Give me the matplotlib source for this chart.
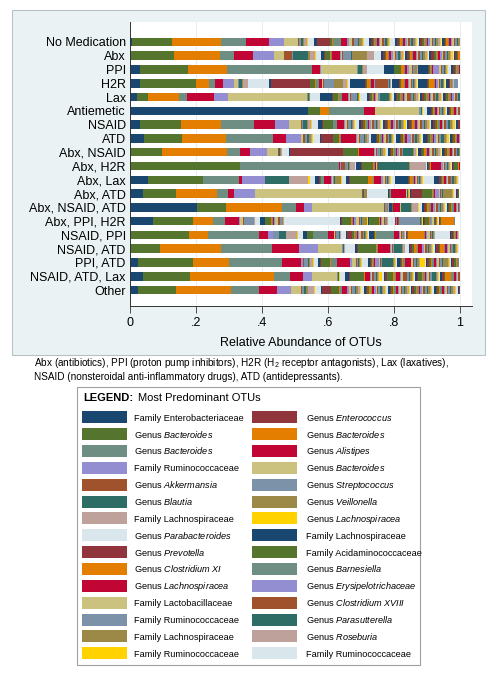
import numpy as np
import matplotlib
matplotlib.use("Agg")
import matplotlib.pyplot as plt
from matplotlib.patches import Rectangle

plt.rcParams["font.family"] = ["Liberation Sans", "DejaVu Sans"]
plt.rcParams["mathtext.fontset"] = "custom"
plt.rcParams["mathtext.rm"] = "Liberation Sans"
plt.rcParams["mathtext.it"] = "Liberation Sans:italic"

# Stata s2color palette, cycled over the OTUs
palette = ["#1a476f", "#90353b", "#55752f", "#e37e00", "#6e8e84",
           "#c10534", "#938dd2", "#cac27e", "#a0522d", "#7b92a8",
           "#2d6d66", "#9c8847", "#bfa19c", "#ffd200", "#d9e6eb"]

categories = ["No Medication", "Abx", "PPI", "H2R", "Lax", "Antiemetic", "NSAID",
              "ATD", "Abx, NSAID", "Abx, H2R", "Abx, Lax", "Abx, ATD",
              "Abx, NSAID, ATD", "Abx, PPI, H2R", "NSAID, PPI", "NSAID, ATD",
              "PPI, ATD", "NSAID, ATD, Lax", "Other"]

# relative abundance of OTU 1, 2, 3, ... per group
no_medication = [
    .006, 0, .12, .149, .077, .07, .044, .042, .004, .006, .006, .004, .008, .002, .02,
    .008, .04, .006, .003, .025, .018, .006, .01, .004, .012, .004, .008, .004, .004, .014,
    .006, .005, .004, .004, .006, .005, .004, .006, .005, .004, .005, .004, .003, .003, .016,
    .006, .005, .004, .005, .004, .006, .004, .005, .006, .004, .005, .006, .004, .003, .004,
    .005, .006, .004, .005, .004, .005, .004, .006, .005, .004, .005, .006, .004, .003, .004,
    .005, .004, .005, .004, .004, .005, .004, .005, .005, .004, .004, .005]
abx = [
    .002, 0, .131, .141, .041, .058, .063, .031, .025, .003, .045, .005, .015, .003, .015,
    .01, .003, .015, .002, .004, .025, .003, .002, .003, .025, .003, .045, .02, .002, .02,
    .008, .004, .004, .006, .004, .004, .008, .005, .004, .005, .006, .004, .004, .004, .004,
    .005, .006, .004, .005, .004, .008, .004, .004, .006, .005, .004, .006, .004, .004, .004,
    .006, .008, .005, .004, .004, .006, .004, .005, .006, .005, .004, .006, .004, .004, .004,
    .004, .005, .004, .004]
ppi = [
    .03, 0, .147, .118, .257, .024, .002, .109, .002, .002, .013, .002, .012, .001, .05,
    .03, .002, .02, .008, .004, .006, .006, .01, .002, .006, .002, .004, .003, .002, 0,
    .028, .003, .003, .003, .003, .003, .02, .004, .003, .008, .003, .004, .003, .002, .008,
    .006, .006, .004, .004, .004, .004]
h2r = [
    .03, 0, .17, .04, .018, .023, .035, .01, .002, .002, .01, .002, .016, .001, .061,
    .007, .119, .015, .002, .01, .008, .002, .002, .002, .03, .002, .025, .015, .001, .008,
    .045, .002, .002, .01, .002, .01, .002, .002, .04, .002, .002, .002, .002, .001, .003,
    .02, .002, .004, .01, .003, .008, .003, .008, .003, .003, .003, .003, .002, .002, .004,
    .028, .002, .002, .016, .003, .003, .006, .003, .003, .004, .004, .003, .003, .002, .004,
    .008, .002, .002, .002, .002, .002, .002, .002, .002, .01]
lax = [
    .022, 0, .034, .091, .025, .084, .04, .239, .002, .001, .003, .003, .001, .001, .03,
    .035, .005, .015, .002, .008, .02, .003, .003, .002, .018, .003, .003, .002, .002, .02,
    .008, .003, .004, .003, .004, .003, .004, .004, .003, .004, .028, .003, .003, .003, .006,
    .005, .004, .008, .004, .005, .004, .004, .004, .015, .005, .004, .006, .004, .004, .004,
    .005, .006, .005, .004, .005, .004, .004, .005, .006, .004, .005, .004, .004, .004, .004,
    .005, .005, .004, .005, .004, .005, .004, .004, .005, .004, .005]
antiemetic = [
    .54, 0, .036, .028, .106, .032, 0, .134, .001, .006, .001, .001, .001, .001, .012,
    .013, .003, .003, .004, .003, .005, .003, .004, .003, .004, .003, .004, .003, .004, .003,
    .005, .004, .004, .004, .004, .005, .004, .004, .006]
nsaid = [
    .03, 0, .124, .121, .101, .064, .042, .037, .003, .003, .012, .003, .008, .002, .02,
    .012, .002, .03, .002, .012, .02, .003, .006, .003, .01, .003, .003, .003, .002, .012,
    .008, .004, .006, .004, .005, .004, .005, .004, .006, .005, .004, .005, .004, .003, .006,
    .006, .006, .005, .004, .005, .006, .004, .005, .005, .004, .006, .005, .004, .004, .004,
    .005, .006, .005, .005, .004, .006, .004, .005, .006, .005, .004, .006, .005, .004, .004,
    .006, .005, .005, .004, .005, .006, .004, .005, .006, .005, .005, .006, .005, .004, .004,
    .006, .006]
atd = [
    .042, 0, .117, .132, .141, .041, .046, .006, .004, .008, .006, .006, .004, .002, .022,
    .003, .035, .018, .004, .003, .045, .004, .004, .004, .012, .004, .006, .004, .002, .006,
    .014, .004, .005, .004, .005, .004, .004, .004, .006, .004, .005, .004, .004, .003, .004,
    .012, .004, .005, .004, .004, .005, .012, .004, .005, .005, .004, .006, .004, .004, .004,
    .012, .005, .004, .005, .004, .005, .004, .006, .005, .004, .012, .005, .004, .004, .004,
    .005, .005, .004, .004, .004, .004, .004]
abx_nsaid = [
    0, 0, .096, .199, .038, .031, .05, .034, .002, .002, .004, .003, .002, .001, .02,
    .003, .16, .046, .002, .002, .043, .003, .003, .003, .01, .003, .008, .006, .002, .006,
    .005, .004, .006, .004, .004, .005, .004, .005, .004, .005, .03, .004, .004, .003, .004,
    .008, .005, .006, .004, .004, .005, .004, .005, .006, .004, .004, .006, .004, .004, .004,
    .006, .004, .006, .004, .004, .005, .004, .004, .005, .004, .004, .003]
abx_h2r = [
    0, 0, .333, 0, .301, .002, .002, .002, .01, .012, .002, .003, .015, .001, .002,
    .015, .002, .035, .002, .003, .002, .002, .002, .002, .002, .093, .002, .049, .001, .003,
    .003, .003, .003, .002, .002, .03, .004, .004, .004, .005, .003, .004, .003, .002, .003,
    .003, .003, .012, .003, .002, .002]
abx_lax = [
    .054, 0, .166, 0, .111, .007, .071, 0, 0, 0, .073, 0, .057, .005, .018,
    .012, .002, .002, .002, .008, .022, .002, .002, .002, .002, .002, .018, .002, .001, .013,
    .01, .002, .055, .015, .002, .022, .008, .004, .003, .004, .003, .004, .003, .002, .012,
    .04, .003, .003, .008, .003, .003, .003, .003, .004, .003, .003, .003, .003, .002, .035,
    .015, .004, .004, .004, .004, .004, .004, .004, .008, .004, .004, .006, .004, .002, .003]
abx_atd = [
    .04, 0, .099, .124, .035, .018, .063, .324, .002, .002, .002, .008, .001, .001, .062,
    .003, .002, .002, .001, .002, .045, .001, .001, .001, .001, .001, .001, .004, .001, .002,
    .002, .035, .03, .003, .003, .003, .012, .003, .003, .003, .003, .028, .003, .003, .004,
    .004, .003, .003]
abx_nsaid_atd = [
    .202, 0, .088, .17, .043, .024, .023, .22, .003, .005, .002, .002, .002, .001, .001,
    .008, .001, .001, .001, .001, .02, .001, .001, .001, .001, .03, .002, .02, .002, .01,
    .004, .006, .005, .004, .006, .008, .004, .005, .004, .006, .005, .004, .004, .004, .005,
    .004, .004, .005, .004, .006, .004, .004, .004, .003, .002]
abx_ppi_h2r = [
    .069, 0, .123, .06, .036, .043, .002, .01, .002, .03, .001, .001, .001, .001, .014,
    .015, .002, .016, .005, .003, .002, .003, .01, .006, .005, .002, .002, .002, .001, .17,
    .002, .002, .03, .003, .003, .003, .006, .008, .003, .003, .003, .014, .002, .001, .002,
    .002, .001, .03, .002, .002, .002, .002, .008, .002, .002, .002, .002, .002, .001, .02,
    .002, .001, .001, .001, .003, .001, .001, .001, .001, .066, .002, .002, .002, .001, .002,
    .002, .004, .012, .002, .002, .002, .002, .006, .002, .002, .002, .002, .002, .002, .002,
    .002, .002, .002, .04, .004]
nsaid_ppi = [
    0, 0, .179, .058, .154, .028, .015, 0, 0, .018, .021, 0, .034, .002, .015,
    .012, 0, .018, .002, .045, .016, .002, .002, .002, .01, .002, .002, .002, .001, .015,
    .004, .015, .006, .003, .004, .003, .003, .008, .004, .004, .003, .003, .003, .002, .004,
    .014, .002, .002, .002, .056, .014, .003, .003, .003, .003, .002, .002, .002, .001, .002,
    .002, .002, .002, .05, .003, .003, .003, .008, .003, .003, .003, .003, .003, .002, .045,
    .002, .006, .003, .003, .003, .004, .004, .003]
nsaid_atd = [
    0, 0, .091, .184, .154, .084, .057, .071, .002, .002, .002, .002, .002, .001, .03,
    .006, .002, .055, .002, .003, .039, .003, .002, .002, .003, .025, .002, .006, .002, .01,
    .004, .008, .004, .01, .004, .012, .004, .004, .005, .004, .004, .005, .004, .003, .004,
    .005, .008, .004, .012, .004, .004, .005, .004, .005, .004, .006, .004, .003, .002, .003]
ppi_atd = [
    .023, 0, .169, .109, .16, .058, .004, .002, .003, .012, .003, .003, .01, .001, .014,
    .006, .002, .028, .002, .018, .041, .004, .012, .003, .005, .003, .003, .003, .003, .018,
    .004, .003, .003, .003, .003, .003, .013, .005, .003, .003, .032, .003, .003, .003, .003,
    .008, .003, .005, .003, .004, .018, .003, .005, .004, .005, .004, .005, .004, .014, .003,
    .004, .006, .004, .005, .004, .006, .004, .005, .004, .005, .004, .015, .004, .003, .003,
    .004, .006, .005, .004, .005]
nsaid_atd_lax = [
    .04, 0, .142, .255, .048, .04, .028, .073, .002, .003, .001, .001, .001, .001, .017,
    .013, .002, .042, .002, .002, .015, .003, .003, .006, .004, .004, .004, .003, .008, .006,
    .005, .004, .02, .004, .004, .012, .004, .006, .012, .004, .004, .006, .004, .003, .004,
    .004, .004, .012, .004, .004, .004, .004, .005, .004, .006, .01, .004, .003, .003, .004,
    .005, .006, .004, .018, .01, .004, .004, .004, .004]
other = [
    .025, 0, .114, .167, .086, .054, .041, .032, .003, .005, .006, .005, .02, .002, .02,
    .003, .025, .026, .003, .004, .018, .004, .006, .004, .008, .004, .006, .005, .004, .01,
    .005, .004, .006, .004, .005, .006, .004, .005, .004, .006, .004, .005, .004, .003, .006,
    .006, .005, .004, .005, .004, .006, .004, .005, .005, .004, .005, .006, .004, .003, .004,
    .005, .006, .004, .005, .005, .004, .005, .004, .006, .004, .005, .004, .005, .003, .004,
    .006, .005, .005, .004, .005, .005, .004, .006, .005, .005, .004, .006, .005, .004, .004,
    .004, .003]

group_values = [no_medication, abx, ppi, h2r, lax, antiemetic, nsaid, atd, abx_nsaid,
                abx_h2r, abx_lax, abx_atd, abx_nsaid_atd, abx_ppi_h2r, nsaid_ppi,
                nsaid_atd, ppi_atd, nsaid_atd_lax, other]

# legend: the 30 most predominant OTUs (in stacking order)
otu_rank = ["Family", "Genus", "Genus", "Genus", "Genus", "Genus", "Family", "Genus",
            "Genus", "Genus", "Genus", "Genus", "Family", "Genus", "Genus", "Family",
            "Genus", "Family", "Genus", "Genus", "Genus", "Genus", "Family", "Genus",
            "Family", "Genus", "Family", "Genus", "Family", "Family"]
otu_taxon = ["Enterobacteriaceae", "Enterococcus", "Bacteroides", "Bacteroides",
             "Bacteroides", "Alistipes", "Ruminococcaceae", "Bacteroides", "Akkermansia",
             "Streptococcus", "Blautia", "Veillonella", "Lachnospiraceae", "Lachnospiracea",
             "Parabacteroides", "Lachnospiraceae", "Prevotella", "Acidaminococcaceae",
             "Clostridium XI", "Barnesiella", "Lachnospiracea", "Erysipelotrichaceae",
             "Lactobacillaceae", "Clostridium XVIII", "Ruminococcaceae", "Parasutterella",
             "Lachnospiraceae", "Roseburia", "Ruminococcaceae", "Ruminococcaceae"]

xticks = [0, .2, .4, .6, .8, 1]
xtick_labels = ["0", ".2", ".4", ".6", ".8", "1"]

W, H = 498, 674
fig = plt.figure(figsize=(W / 100, H / 100), dpi=100)
fig.patch.set_facecolor("white")

# graph region (light blue-gray background)
fig.patches.append(Rectangle((12 / W, 1 - 355 / H), 473 / W, 345 / H,
                             transform=fig.transFigure, facecolor="#eaf2f3",
                             edgecolor="#b8c2c6", linewidth=0.8, zorder=-5))

ax = fig.add_axes([130 / W, 1 - 306 / H, 342 / W, 284 / H], zorder=2)
ax.set_facecolor("white")

n = max(len(v) for v in group_values)
vals = np.zeros((len(group_values), n))
for i, v in enumerate(group_values):
    vals[i, :len(v)] = v

ypos = np.arange(len(categories))
left = np.zeros(len(categories))
for j in range(n):
    ax.barh(ypos, vals[:, j], left=left, height=0.62,
            color=palette[j % len(palette)], linewidth=0, zorder=2)
    left += vals[:, j]

ax.set_xlim(0, 342 / 330)
ax.set_ylim(19.16, -1.45)
ax.set_yticks(ypos)
ax.set_yticklabels(categories, fontsize=9)
ax.tick_params(axis="y", length=0, pad=3)
ax.set_xticks(xticks)
ax.set_xticklabels(xtick_labels, fontsize=9)
ax.tick_params(axis="x", length=5, width=0.6, color="#333333", pad=3)
for gx in [.2, .4, .6, .8, 1]:
    ax.axvline(gx, color="#e3eaec", linewidth=0.6, zorder=1)
ax.set_xlabel("Relative Abundance of OTUs", fontsize=9, labelpad=6)
for s in ["top", "right"]:
    ax.spines[s].set_visible(False)
for s in ["left", "bottom"]:
    ax.spines[s].set_color("#333333")
    ax.spines[s].set_linewidth(0.7)

# overlay in pixel coordinates for caption and legend
ov = fig.add_axes([0, 0, 1, 1], facecolor="none", zorder=1)
ov.set_xlim(0, W)
ov.set_ylim(H, 0)
ov.axis("off")

ov.text(34, 366, "Abx (antibiotics), PPI (proton pump inhibitors), H2R (H$_2$ receptor "
        "antagonists), Lax (laxatives),", fontsize=7.2, va="baseline")
ov.text(34, 380, "NSAID (nonsteroidal anti-inflammatory drugs), ATD (antidepressants).",
        fontsize=7.2, va="baseline")

ov.add_patch(Rectangle((77, 387), 343, 278, facecolor="white", edgecolor="#a0a0a0",
                       linewidth=0.8))
ov.text(83, 401, "LEGEND:", fontsize=8.0, fontweight="bold", va="baseline")
ov.text(138, 401, "Most Predominant OTUs", fontsize=8.0, va="baseline")

for k in range(len(otu_taxon)):
    row, col = divmod(k, 2)
    y = 417.3 + row * 16.85
    sx = 82 if col == 0 else 252
    tx = 134 if col == 0 else 306
    ov.add_patch(Rectangle((sx, y - 6), 45, 12, facecolor=palette[k % len(palette)],
                           edgecolor="none"))
    name = otu_taxon[k]
    if otu_rank[k] == "Genus":
        label = "Genus $\\it{" + name.replace(" ", "\\ ") + "}$"
    else:
        label = "Family " + name
    ov.text(tx, y + 3.5, label, fontsize=6.6, va="baseline")

fig.savefig("out.png", dpi=100)
